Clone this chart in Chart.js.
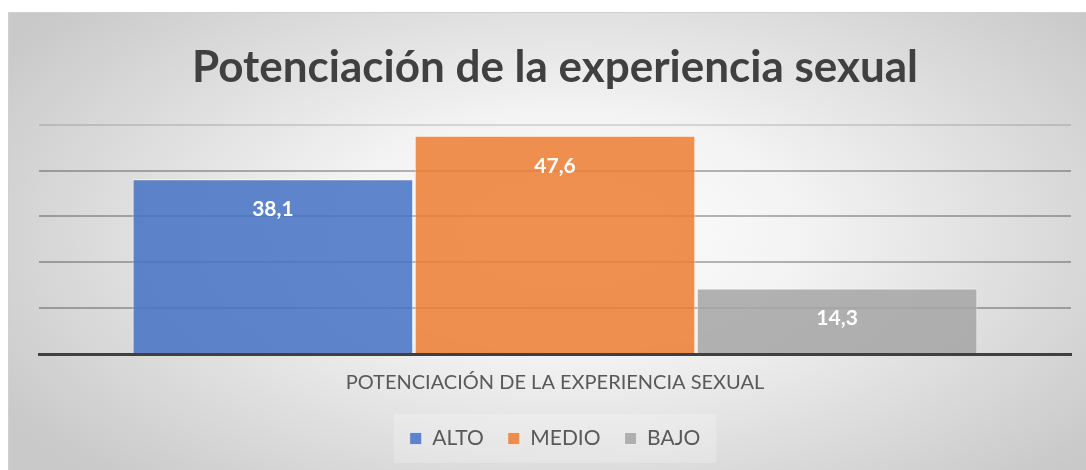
<!DOCTYPE html>
<html>
<head>
<meta charset="utf-8">
<script src="https://cdn.jsdelivr.net/npm/chart.js@4.4.0/dist/chart.umd.min.js"></script>
<style>
  html, body { margin: 0; padding: 0; background: #ffffff; }
  #frame {
    position: absolute; left: 8px; top: 12px; width: 1077px; height: 457px;
    border-top: 1px solid #d0d0d0; border-left: 1px solid #d0d0d0;
    background: radial-gradient(ellipse 62% 75% at 52% 48%, #ffffff 0%, #f3f3f3 35%, #d9d9d9 75%, #c9c9c9 100%);
  }
</style>
</head>
<body>
<div id="frame"><canvas id="myCanvas" width="1077" height="457"></canvas></div>
<script>
const categories = ['POTENCIACIÓN DE LA EXPERIENCIA SEXUAL']
const seriesNames = ['ALTO', 'MEDIO', 'BAJO']
const altoValues = [38.1]
const medioValues = [47.6]
const bajoValues = [14.3]
const yTicks = [0, 10, 20, 30, 40, 50]

const fontFamily = 'Lato, "Open Sans", sans-serif'

// white value labels just under the top of each bar
const valueLabels = {
  id: 'valueLabels',
  afterDatasetsDraw(chart) {
    const ctx = chart.ctx
    ctx.save()
    ctx.font = 'bold 21px ' + fontFamily
    ctx.fillStyle = '#ffffff'
    ctx.textAlign = 'center'
    ctx.textBaseline = 'middle'
    chart.data.datasets.forEach((ds, i) => {
      chart.getDatasetMeta(i).data.forEach((bar, j) => {
        const txt = ds.data[j].toFixed(1).replace('.', ',')
        ctx.fillText(txt, bar.x, bar.y + 30)
      })
    })
    ctx.restore()
  }
}

// soft box behind the legend items
const legendBox = {
  id: 'legendBox',
  beforeDraw(chart) {
    const boxes = chart.legend && chart.legend.legendHitBoxes
    if (!boxes || !boxes.length) return
    const first = boxes[0], last = boxes[boxes.length - 1]
    const ctx = chart.ctx
    ctx.save()
    ctx.fillStyle = 'rgba(255,255,255,0.22)'
    ctx.fillRect(first.left - 16, first.top - 14, last.left + last.width - first.left + 32, first.height + 28)
    ctx.restore()
  }
}

function createBarChart() {
  const context = document.getElementById('myCanvas').getContext('2d')

  new Chart(context, {
    type: 'bar',
    data: {
      labels: categories,
      datasets: [
        {
          label: seriesNames[0],
          data: altoValues,
          backgroundColor: 'rgba(68,114,196,0.85)',
          borderColor: 'rgba(255,255,255,0.6)',
          borderWidth: 1
        },
        {
          label: seriesNames[1],
          data: medioValues,
          backgroundColor: 'rgba(237,125,49,0.85)',
          borderColor: 'rgba(255,255,255,0.6)',
          borderWidth: 1
        },
        {
          label: seriesNames[2],
          data: bajoValues,
          backgroundColor: 'rgba(165,165,165,0.85)',
          borderColor: 'rgba(255,255,255,0.6)',
          borderWidth: 1
        }
      ]
    },
    options: {
      responsive: false,
      animation: false,
      layout: { padding: { left: 30, right: 15, top: 0, bottom: 11 } },
      plugins: {
        title: {
          display: true,
          text: 'Potenciación de la experiencia sexual',
          color: '#404040',
          font: { family: fontFamily, size: 44, weight: 'bold' },
          padding: { top: 28, bottom: 31 }
        },
        legend: {
          position: 'bottom',
          labels: {
            boxWidth: 12,
            boxHeight: 12,
            color: '#595959',
            padding: 24,
            font: { family: fontFamily, size: 21 }
          }
        },
        tooltip: { enabled: false }
      },
      datasets: {
        bar: { categoryPercentage: 0.82, barPercentage: 0.995 }
      },
      scales: {
        x: {
          grid: { display: false },
          border: { color: '#404040', width: 3 },
          ticks: { color: '#595959', font: { family: fontFamily, size: 20 }, padding: 9 }
        },
        y: {
          min: yTicks[0],
          max: yTicks[yTicks.length - 1],
          afterBuildTicks: (scale) => { scale.ticks = yTicks.map(v => ({ value: v })) },
          ticks: { display: false },
          border: { display: false },
          grid: {
            color: (c) => c.tick && c.tick.value === 50 ? 'rgba(0,0,0,0.12)' : 'rgba(0,0,0,0.28)',
            lineWidth: 2,
            drawTicks: false
          }
        }
      }
    },
    plugins: [valueLabels, legendBox]
  })
}

document.addEventListener('DOMContentLoaded', () => {
  createBarChart()
})
</script>
</body>
</html>
